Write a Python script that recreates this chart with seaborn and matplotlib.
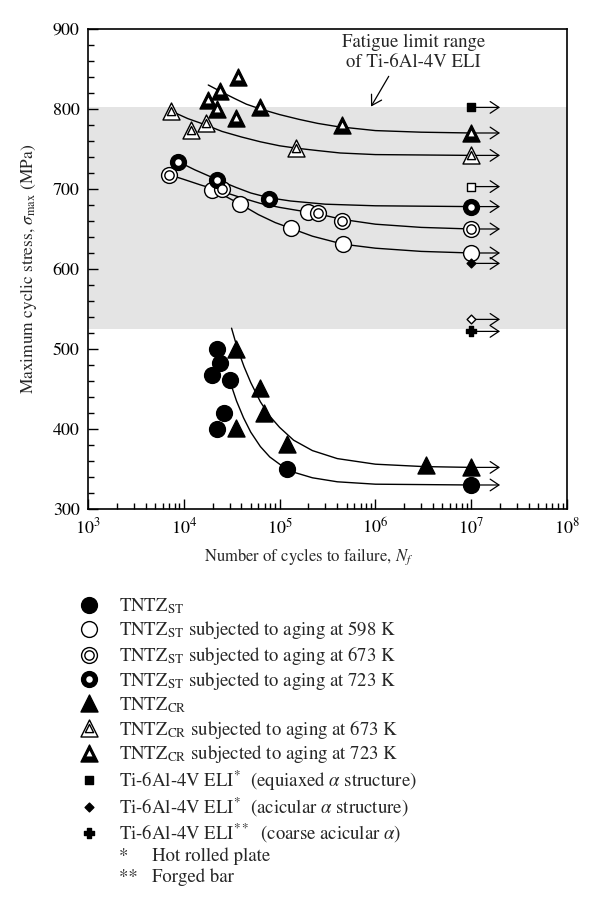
import numpy as np
import matplotlib
matplotlib.use("Agg")
import matplotlib.pyplot as plt
import seaborn as sns
from matplotlib.lines import Line2D
from matplotlib.ticker import MultipleLocator, LogLocator, NullFormatter

sns.set_style("ticks")
plt.rcParams['font.family'] = ['STIXGeneral', 'DejaVu Serif']
plt.rcParams['mathtext.fontset'] = 'stix'
plt.rcParams['font.size'] = 13

# ---- data: cycles to failure, max stress (MPa) ----
st_n = [2.2e4, 2.4e4, 1.95e4, 3.0e4, 2.6e4, 2.2e4, 1.2e5, 1e7]
st_s = [500, 482, 468, 461, 420, 400, 350, 330]

st598_n = [1.95e4, 3.9e4, 1.3e5, 2.0e5, 4.6e5, 1e7]
st598_s = [699, 681, 651, 671, 631, 620]

st673_n = [7.0e3, 2.5e4, 2.5e5, 4.5e5, 1e7]
st673_s = [718, 700, 670, 660, 650]

st723_n = [8.8e3, 2.2e4, 7.8e4, 1e7]
st723_s = [734, 711, 688, 678]

cr_n = [3.5e4, 6.2e4, 6.9e4, 3.5e4, 1.2e5, 3.4e6, 1e7]
cr_s = [500, 451, 420, 401, 381, 355, 352]

cr673_n = [7.3e3, 1.2e4, 1.7e4, 1.47e5, 1e7]
cr673_s = [798, 774, 782, 751, 742]

cr723_n = [1.8e4, 2.2e4, 2.4e4, 3.5e4, 3.7e4, 6.2e4, 4.5e5, 1e7]
cr723_s = [811, 800, 823, 789, 840, 802, 780, 770]

ti_n = [1e7]
ti_equi_s = [802]
ti_equi_open_s = [703]
ti_acic_s = [607]
ti_acic_open_s = [537]
ti_coarse_s = [522]

# fitted curves as drawn in the figure
curve_st_n = [3.0e4, 3.55e4, 4.2e4, 5.0e4, 6.3e4, 7.9e4, 1.0e5, 1.4e5, 2.2e5, 4.0e5, 1e6, 1e7]
curve_st_s = [461, 435, 414, 396, 378, 365, 356, 346, 339, 334, 331, 330]
curve_cr_n = [3.15e4, 3.6e4, 4.25e4, 5.0e4, 6.3e4, 7.9e4, 1e5, 1.4e5, 2.2e5, 4e5, 1e6, 3.2e6, 1e7]
curve_cr_s = [526, 502, 478, 458, 434, 416, 402, 386, 373, 363, 356, 353, 352]
curve_st598_n = [1.95e4, 2.8e4, 3.9e4, 6e4, 9e4, 1.3e5, 2.2e5, 4.6e5, 1e6, 3e6, 1e7]
curve_st598_s = [699, 690, 681, 668, 658, 651, 641, 631, 626, 622, 620]
curve_st673_n = [7e3, 1e4, 1.5e4, 2.5e4, 4e4, 6.3e4, 1e5, 2.5e5, 4.5e5, 1e6, 3e6, 1e7]
curve_st673_s = [718, 712, 705, 697, 689, 682, 677, 669, 662, 656, 652, 650]
curve_st723_n = [8.8e3, 1.3e4, 2.2e4, 3.5e4, 5e4, 7.8e4, 1.3e5, 3e5, 1e6, 1e7]
curve_st723_s = [734, 724, 712, 702, 695, 689, 685, 681, 679, 678]
curve_cr673_n = [7.5e3, 1.1e4, 1.7e4, 2.5e4, 4e4, 6.3e4, 1e5, 1.5e5, 2.5e5, 4.3e5, 1e6, 1e7]
curve_cr673_s = [797, 788, 780, 772, 765, 759, 754, 751, 748, 745, 743, 742]
curve_cr723_n = [1.8e4, 2.5e4, 3.4e4, 4.5e4, 6.3e4, 1e5, 1.6e5, 2.5e5, 4e5, 1e6, 3e6, 1e7]
curve_cr723_s = [830, 821, 813, 806, 800, 793, 787, 782, 778, 773, 771, 770]

shade_low, shade_high = 525, 802
runout_n, arrow_end = 1e7, 2e7

labels = [
    r"TNTZ$_{\mathrm{ST}}$",
    r"TNTZ$_{\mathrm{ST}}$ subjected to aging at 598 K",
    r"TNTZ$_{\mathrm{ST}}$ subjected to aging at 673 K",
    r"TNTZ$_{\mathrm{ST}}$ subjected to aging at 723 K",
    r"TNTZ$_{\mathrm{CR}}$",
    r"TNTZ$_{\mathrm{CR}}$ subjected to aging at 673 K",
    r"TNTZ$_{\mathrm{CR}}$ subjected to aging at 723 K",
    r"Ti-6Al-4V ELI$^{*}$  (equiaxed $\alpha$ structure)",
    r"Ti-6Al-4V ELI$^{*}$  (acicular $\alpha$ structure)",
    r"Ti-6Al-4V ELI$^{**}$  (coarse acicular $\alpha$)",
    "*     Hot rolled plate",
    "**   Forged bar",
]

fig = plt.figure(figsize=(6, 9.06), dpi=100)
ax = fig.add_axes([0.1467, 0.4382, 0.7983, 0.5298])

ax.axhspan(shade_low, shade_high, color='#e4e4e4', lw=0, zorder=0)

curves = [(curve_st_n, curve_st_s), (curve_cr_n, curve_cr_s),
          (curve_st598_n, curve_st598_s), (curve_st673_n, curve_st673_s),
          (curve_st723_n, curve_st723_s), (curve_cr673_n, curve_cr673_s),
          (curve_cr723_n, curve_cr723_s)]
for cn, cs in curves:
    sns.lineplot(x=cn, y=cs, color='black', lw=1.0, ax=ax, zorder=2)

# run-out arrows
runout_s = [s[-1] for s in (st_s, st598_s, st673_s, st723_s, cr_s, cr673_s, cr723_s)]
runout_s += ti_equi_s + ti_equi_open_s + ti_acic_s + ti_acic_open_s + ti_coarse_s
for y in runout_s:
    ax.annotate('', xy=(arrow_end, y), xytext=(runout_n, y),
                arrowprops=dict(arrowstyle='->,head_length=0.45,head_width=0.3',
                                lw=0.9, color='black', shrinkA=0, shrinkB=0,
                                mutation_scale=14))


def dots(n, s, marker, size, face, edge='black', lw=1.0, z=4):
    sns.scatterplot(x=n, y=s, marker=marker, s=size, color=face, edgecolor=edge,
                    linewidth=lw, zorder=z, ax=ax, legend=False)
    return ax.collections[-1]


h_st = dots(st_n, st_s, 'o', 130, 'black')
h_598 = dots(st598_n, st598_s, 'o', 130, 'white')
h_673 = (dots(st673_n, st673_s, 'o', 130, 'white'),
         dots(st673_n, st673_s, 'o', 45, 'white', z=5))
h_723 = (dots(st723_n, st723_s, 'o', 130, 'black'),
         dots(st723_n, st723_s, 'o', 22, 'white', edge='white', lw=0, z=5))
h_cr = dots(cr_n, cr_s, '^', 150, 'black')
h_cr673 = (dots(cr673_n, cr673_s, '^', 150, 'white'),
           dots(cr673_n, cr673_s, '^', 35, 'white', z=5))
h_cr723 = (dots(cr723_n, cr723_s, '^', 150, 'black'),
           dots(cr723_n, cr723_s, '^', 18, 'white', edge='white', lw=0, z=5))
h_equi = dots(ti_n, ti_equi_s, 's', 30, 'black')
dots(ti_n, ti_equi_open_s, 's', 30, 'white')
h_acic = dots(ti_n, ti_acic_s, 'D', 20, 'black')
dots(ti_n, ti_acic_open_s, 'D', 20, 'white')
h_coarse = dots(ti_n, ti_coarse_s, 'P', 45, 'black')

ax.annotate("Fatigue limit range\nof Ti-6Al-4V ELI", xy=(9e5, 803), xytext=(2.5e6, 871),
            ha='center', va='center', fontsize=13.5,
            arrowprops=dict(arrowstyle='->,head_length=0.5,head_width=0.3', lw=0.9,
                            color='black', relpos=(0.35, 0), shrinkB=0, mutation_scale=14))

ax.set_xscale('log')
ax.set_xlim(1e3, 1e8)
ax.set_ylim(300, 900)
ax.xaxis.set_major_locator(LogLocator(base=10, numticks=10))
ax.xaxis.set_minor_locator(LogLocator(base=10, subs=np.arange(2, 10), numticks=100))
ax.xaxis.set_minor_formatter(NullFormatter())
ax.yaxis.set_major_locator(MultipleLocator(100))
ax.yaxis.set_minor_locator(MultipleLocator(20))
ax.tick_params(which='both', direction='in', top=False, right=False, width=1, colors='black')
ax.tick_params(which='major', length=7, labelsize=13, pad=6)
ax.tick_params(which='minor', length=4)
for sp in ax.spines.values():
    sp.set_visible(True)
    sp.set_linewidth(1.2)
    sp.set_color('black')
ax.set_xlabel("Number of cycles to failure, $N_f$", fontsize=12, labelpad=8)
ax.xaxis.set_label_coords(0.46, -0.078)
ax.set_ylabel(r"Maximum cyclic stress, $\sigma_{\max}$ (MPa)", fontsize=12.5, labelpad=10)

blank = Line2D([], [], ls='none', marker='')
handles = [h_st, h_598, h_673, h_723, h_cr, h_cr673, h_cr723, h_equi, h_acic, h_coarse, blank, blank]
fig.legend(handles, labels, loc='upper left', bbox_to_anchor=(0.1227, 0.3415),
           bbox_transform=fig.transFigure, frameon=False, fontsize=13.5,
           handlelength=1.6, handletextpad=0.82, labelspacing=0.155,
           borderpad=0, borderaxespad=0, scatterpoints=1, scatteryoffsets=[0.5])

fig.savefig("out.png", dpi=100)
